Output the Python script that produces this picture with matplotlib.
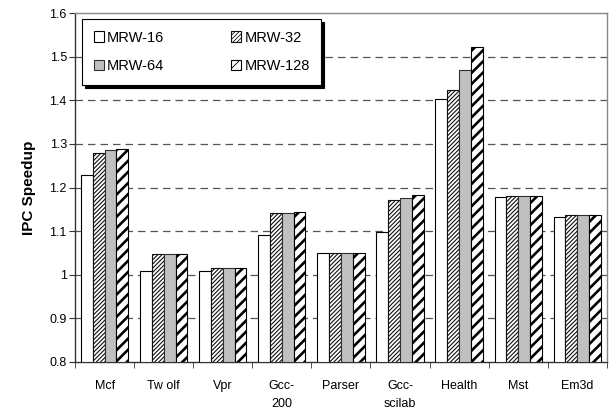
import numpy as np
import matplotlib
matplotlib.use("Agg")
import matplotlib.pyplot as plt

plt.rcParams['font.family'] = ['Liberation Sans', 'DejaVu Sans']

benchmarks = ['Mcf', 'Tw olf', 'Vpr', 'Gcc-\n200', 'Parser', 'Gcc-\nscilab', 'Health', 'Mst', 'Em3d']
series = ['MRW-16', 'MRW-32', 'MRW-64', 'MRW-128']
mrw16 = [1.228, 1.009, 1.009, 1.090, 1.050, 1.097, 1.402, 1.179, 1.133]
mrw32 = [1.280, 1.047, 1.015, 1.141, 1.050, 1.172, 1.423, 1.181, 1.136]
mrw64 = [1.285, 1.047, 1.015, 1.141, 1.050, 1.175, 1.470, 1.181, 1.136]
mrw128 = [1.289, 1.047, 1.015, 1.143, 1.050, 1.183, 1.522, 1.181, 1.136]

styles = [
    dict(facecolor='white', edgecolor='black', hatch=None, hlw=1.0),
    dict(facecolor='white', edgecolor='#101010', hatch='////////', hlw=0.8),
    dict(facecolor='#c0c0c0', edgecolor='#303030', hatch=None, hlw=1.0),
    dict(facecolor='white', edgecolor='black', hatch='///', hlw=1.9),
]

fig = plt.figure(figsize=(6.11, 4.13), dpi=100)
ax = fig.add_axes([0.123, 0.1235, 0.870, 0.845])

x = np.arange(len(benchmarks))
w = 0.2
base = 0.8
bars = []
for i, (vals, st) in enumerate(zip([mrw16, mrw32, mrw64, mrw128], styles)):
    with plt.rc_context({'hatch.linewidth': st['hlw']}):
        b = ax.bar(x + (i - 1.5) * w, np.array(vals) - base, w, bottom=base,
                   facecolor=st['facecolor'], edgecolor=st['edgecolor'],
                   hatch=st['hatch'], linewidth=0.8, label=series[i], zorder=3)
    bars.append(b)

ax.set_ylim(0.8, 1.6)
ax.set_xlim(-0.5, len(benchmarks) - 0.5)
ax.set_yticks(np.arange(0.8, 1.61, 0.1))
ax.set_yticklabels(['0.8', '0.9', '1', '1.1', '1.2', '1.3', '1.4', '1.5', '1.6'])
for yv in np.arange(0.9, 1.55, 0.1):
    ax.axhline(yv, color='#555555', linestyle=(0, (6, 4)), linewidth=0.9, zorder=1)

ax.set_xticks(x)
ax.set_xticklabels(benchmarks, fontsize=9, linespacing=1.65)
ax.set_xticks(np.arange(-0.5, len(benchmarks)), minor=True)
ax.tick_params(axis='x', which='major', length=0, pad=13)
ax.tick_params(axis='x', which='minor', length=4, color='#333333')
ax.tick_params(axis='y', labelsize=9, length=4, color='#333333', pad=2)

for s in ['left', 'bottom']:
    ax.spines[s].set_color('#333333')
    ax.spines[s].set_linewidth(1.0)
for s in ['top', 'right']:
    ax.spines[s].set_color('#888888')
    ax.spines[s].set_linewidth(1.0)

ax.set_ylabel('IPC Speedup', fontsize=11, fontweight='bold', labelpad=10)

# row-wise order: 16, 32 on top; 64, 128 below
order = [0, 2, 1, 3]
with plt.rc_context({'hatch.linewidth': 0.6}):
    leg = ax.legend([bars[k] for k in order], [series[k] for k in order],
                    loc='upper left', bbox_to_anchor=(0.013, 0.983), borderaxespad=0,
                    ncol=2, fontsize=10.5,
                    handlelength=0.7, handleheight=0.7, handletextpad=0.2,
                    columnspacing=4.6, borderpad=0.8, labelspacing=1.0,
                    fancybox=False, edgecolor='black', framealpha=1,
                    shadow={'color': 'black', 'alpha': 1, 'shade': 0})
leg.get_frame().set_linewidth(0.8)
leg.set_zorder(5)

fig.savefig('out.png', dpi=100)
